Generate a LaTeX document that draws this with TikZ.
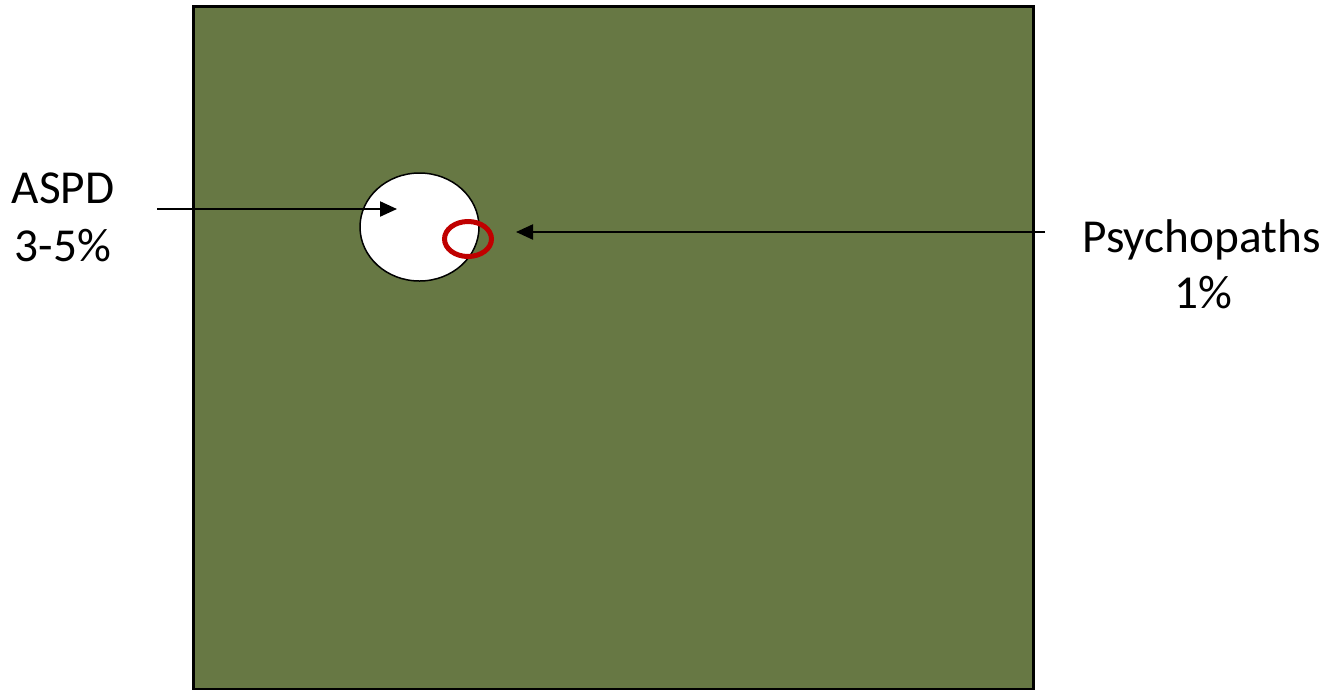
\documentclass[tikz,border=0pt]{standalone}
\usepackage{fontspec}
\setmainfont{Carlito}
\usetikzlibrary{arrows.meta,shapes.geometric}
\definecolor{fieldgreen}{RGB}{103,120,68}
\definecolor{psyred}{RGB}{192,0,0}
\begin{document}
\begin{tikzpicture}[x=1pt,y=-1pt,
  lbl/.style={font=\fontsize{47.3}{56}\selectfont, anchor=base, inner sep=0pt},
  arr/.style={line width=2.2pt, -{Triangle[length=17pt,width=15pt]}}]
\useasboundingbox (0,0) rectangle (1333,689);
\node[draw=black, line width=2.5pt, fill=fieldgreen, inner sep=0pt, minimum width=840pt, minimum height=683pt, anchor=north west] (field) at (192,5) {};
\node[draw=black, line width=1.5pt, fill=white, ellipse, inner sep=0pt, minimum width=119pt, minimum height=108pt] (aspd) at (419.5,227) {};
\node[draw=psyred, line width=5pt, ellipse, inner sep=0pt, minimum width=47pt, minimum height=35pt] (psy) at (468,239) {};
\node[lbl] (aspdA) at (63,203) {ASPD};
\node[lbl] (aspdB) at (63,261) {3-5\%};
\node[lbl] (psyA) at (1201.5,252) {Psychopaths};
\node[lbl] (psyB) at (1203,308) {1\%};
\coordinate (aspdStart) at (157,209);
\coordinate (aspdTip) at (397,209);
\coordinate (psyStart) at (1045,232);
\coordinate (psyTip) at (516,232);
\draw[arr] (aspdStart) -- (aspdTip);
\draw[arr] (psyStart) -- (psyTip);
\end{tikzpicture}
\end{document}
